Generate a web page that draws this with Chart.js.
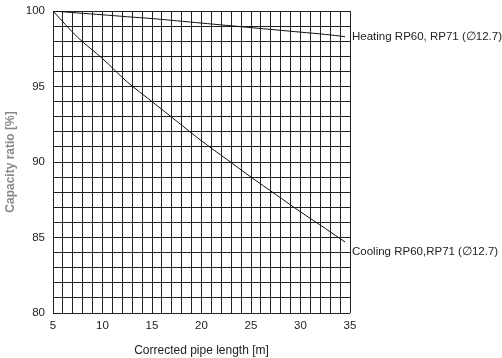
<!DOCTYPE html>
<html>
<head>
<meta charset="utf-8">
<script src="https://cdn.jsdelivr.net/npm/chart.js@4"></script>
<style>
  html, body { margin: 0; padding: 0; background: #fff; }
  #wrap { width: 502px; height: 358px; }
</style>
</head>
<body>
<div id="wrap"><canvas id="cap_chart"></canvas></div>
<script>
// values
const pipe_len = [5, 7.5, 10, 12.5, 15, 17.5, 20, 22.5, 25, 27.5, 30, 32.5, 34.5];
const heating_ratio = [100, 99.87, 99.75, 99.62, 99.5, 99.35, 99.2, 99.05, 98.9, 98.75, 98.6, 98.45, 98.3];
const cooling_ratio = [100, 98.25, 96.85, 95.3, 94.0, 92.7, 91.4, 90.2, 89.0, 87.85, 86.7, 85.6, 84.7];
const series_labels = ["Heating RP60, RP71 (\u220512.7)", "Cooling RP60,RP71 (\u220512.7)"];

const font_name = "'Liberation Sans', Arial, sans-serif";

function to_xy(xs, ys) {
  let pts = [];
  for (let i = 0; i < xs.length; i++) {
    pts.push({ x: xs[i], y: ys[i] });
  }
  return pts;
}

// writes series name right of the plot, at the end of each line
const end_labels = {
  id: "end_labels",
  afterDatasetsDraw(chart) {
    const ctx = chart.ctx;
    const offsets = [0, 10];
    ctx.save();
    ctx.font = "11.5px " + font_name;
    ctx.fillStyle = "#222";
    ctx.textBaseline = "middle";
    ctx.textAlign = "left";
    chart.data.datasets.forEach((ds, i) => {
      const meta = chart.getDatasetMeta(i);
      const last = meta.data[meta.data.length - 1];
      ctx.fillText(series_labels[i], chart.chartArea.right + 2, last.y + offsets[i]);
    });
    ctx.restore();
  },
};

const cap_ctx = document.getElementById("cap_chart");

const cap_chart = new Chart(cap_ctx, {
  type: "line",
  data: {
    datasets: [
      {
        data: to_xy(pipe_len, heating_ratio),
        borderColor: "#111",
        borderWidth: 1,
        pointRadius: 0,
        tension: 0.3,
      },
      {
        data: to_xy(pipe_len, cooling_ratio),
        borderColor: "#111",
        borderWidth: 1,
        pointRadius: 0,
        tension: 0.3,
      },
    ],
  },
  plugins: [end_labels],
  options: {
    responsive: true,
    maintainAspectRatio: false,
    animation: false,
    layout: {
      padding: { top: 11, right: 152, left: 0, bottom: 0 },
    },
    plugins: {
      legend: { display: false },
      tooltip: { enabled: false },
    },
    scales: {
      x: {
        type: "linear",
        min: 5,
        max: 35,
        afterFit: (s) => {
          s.height = 45;
          s.paddingLeft = 0;
          s.paddingRight = 0;
        },
        grid: { color: "#222", lineWidth: 1, drawTicks: false },
        border: { display: false },
        ticks: {
          stepSize: 1,
          autoSkip: false,
          maxRotation: 0,
          padding: 6,
          color: "#222",
          font: { family: font_name, size: 11.5 },
          callback: (v) => (v % 5 === 0 ? String(v) : ""),
        },
        title: {
          display: true,
          text: "Corrected pipe length [m]",
          color: "#222",
          font: { family: font_name, size: 12 },
          padding: { top: 10, bottom: 0 },
        },
      },
      y: {
        min: 80,
        max: 100,
        afterFit: (s) => {
          s.width = 53;
          s.paddingTop = 0;
          s.paddingBottom = 0;
        },
        grid: { color: "#222", lineWidth: 1, drawTicks: false },
        border: { display: false },
        ticks: {
          stepSize: 1,
          autoSkip: false,
          padding: 8,
          color: "#222",
          font: { family: font_name, size: 11.5 },
          callback: (v) => (v % 5 === 0 ? String(v) : ""),
        },
        title: {
          display: true,
          text: "Capacity ratio [%]",
          color: "#888",
          font: { family: font_name, size: 12, weight: "bold" },
          padding: { top: 3, bottom: 0 },
        },
      },
    },
  },
});
</script>
</body>
</html>
